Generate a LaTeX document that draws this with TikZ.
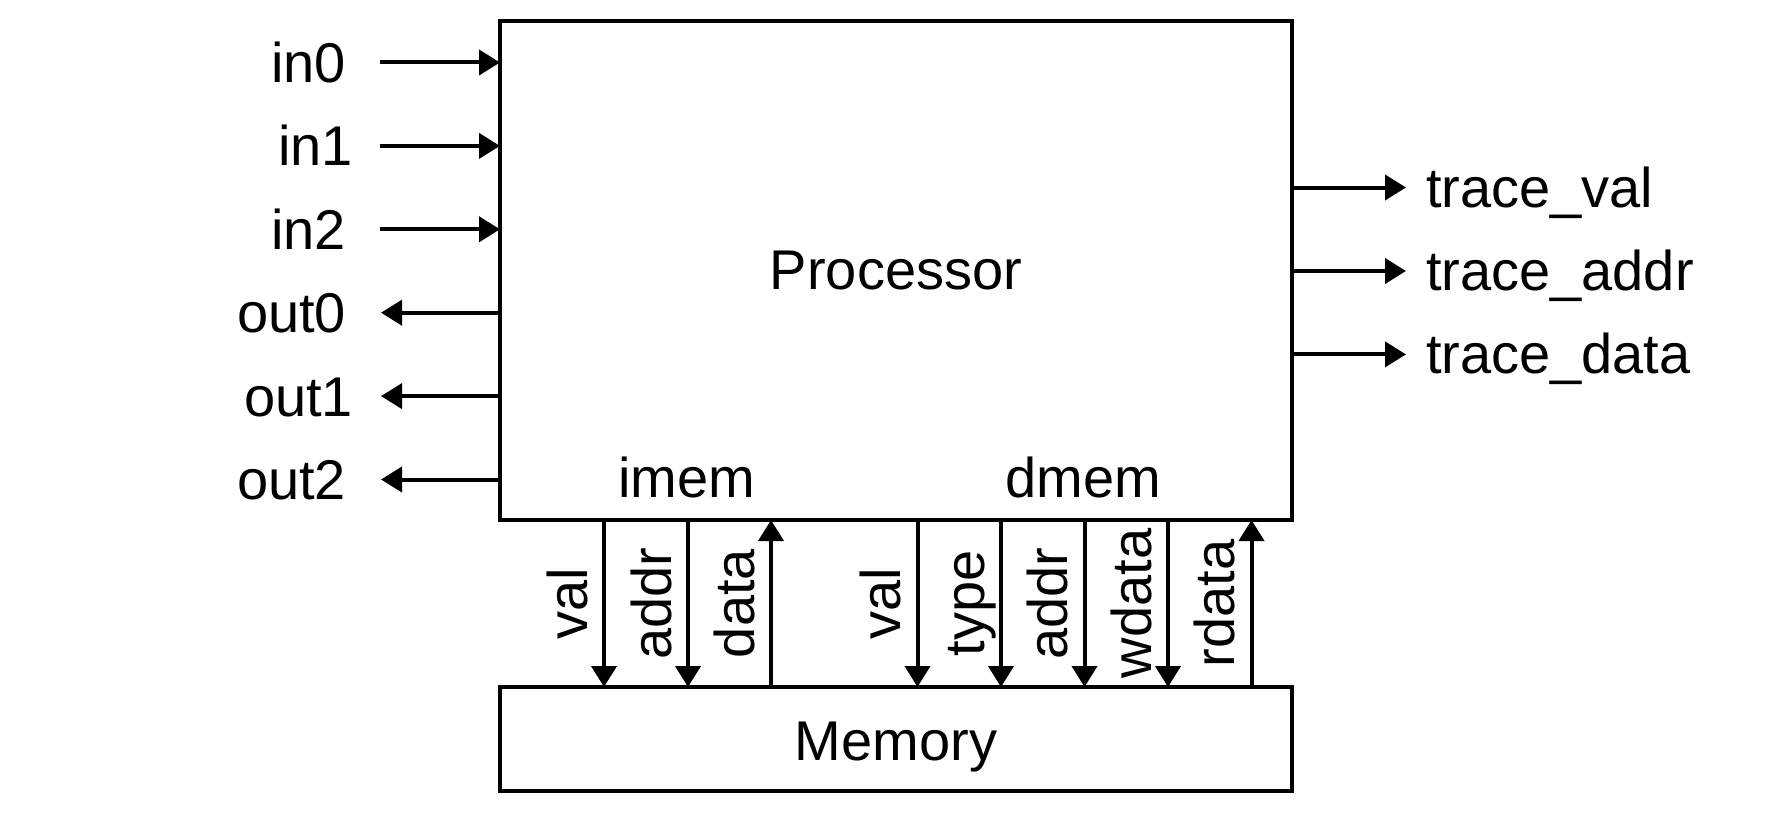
\documentclass[tikz,border=0pt]{standalone}
\usepackage{fontspec}
\setmainfont{Liberation Sans}
\usetikzlibrary{arrows.meta}
\begin{document}
\begin{tikzpicture}[x=0.5pt,y=-0.5pt,
  txt/.style={font=\fontsize{28}{34}\selectfont},
  box/.style={draw, line width=2.3pt, inner sep=0pt, outer sep=0pt, txt},
  lbl/.style={inner sep=0pt, outer sep=0pt, txt},
  arr/.style={line width=2pt, -{Triangle[length=10.5pt,width=12.5pt]}},
]
\useasboundingbox (0,0) rectangle (1792,813);
\node (proc) [box, minimum width=396pt, minimum height=249.5pt] at (896,270.5) {Processor};
\node (mem) [box, minimum width=396pt, minimum height=52pt] at (896,739) {};
\node (memlbl) [lbl, anchor=base] at (896,760) {Memory};

% inputs
\foreach \n/\y/\x in {in0/62.5/346, in1/145.9/353, in2/229.3/346}{
  \node (\n) [lbl, anchor=base east] at (\x,\y+20) {\n};
  \coordinate (\n s) at (380,\y);
  \draw[arr] (\n s) -- (proc.west |- \n s);
}
% outputs
\foreach \n/\y/\x in {out0/312.7/346, out1/396.1/353, out2/479.5/346}{
  \node (\n) [lbl, anchor=base east] at (\x,\y+20) {\n};
  \coordinate (\n s) at (381,\y);
  \draw[arr] (proc.west |- \n s) -- (\n s);
}
% trace outputs
\foreach \n/\t/\y in {tv/trace\_val/187.5, ta/trace\_addr/271, td/trace\_data/354.4}{
  \node (\n) [lbl, anchor=base west] at (1426,\y+19.5) {\t};
  \coordinate (\n s) at (1406,\y);
  \draw[arr] (proc.east |- \n s) -- (\n s);
}
% port group labels
\node (imem) [lbl, anchor=base] at (686.5,497) {imem};
\node (dmem) [lbl, anchor=base] at (1083,497) {dmem};

% memory ports: down arrows
\foreach \n/\t/\x in {iv/val/604, ia/addr/688, dv/val/917.5, dt/type/1001, da/addr/1084.5, dw/wdata/1168}{
  \coordinate (\n) at (\x,603.5);
  \node (\n l) [lbl, rotate=90, anchor=base] at (\x-17,603.5) {\t};
  \draw[arr] (proc.south -| \n) -- (mem.north -| \n);
}
% memory ports: up arrows
\foreach \n/\t/\x in {id/data/771, dr/rdata/1251.5}{
  \coordinate (\n) at (\x,603.5);
  \node (\n l) [lbl, rotate=90, anchor=base] at (\x-17,603.5) {\t};
  \draw[arr] (mem.north -| \n) -- (proc.south -| \n);
}
\end{tikzpicture}
\end{document}
